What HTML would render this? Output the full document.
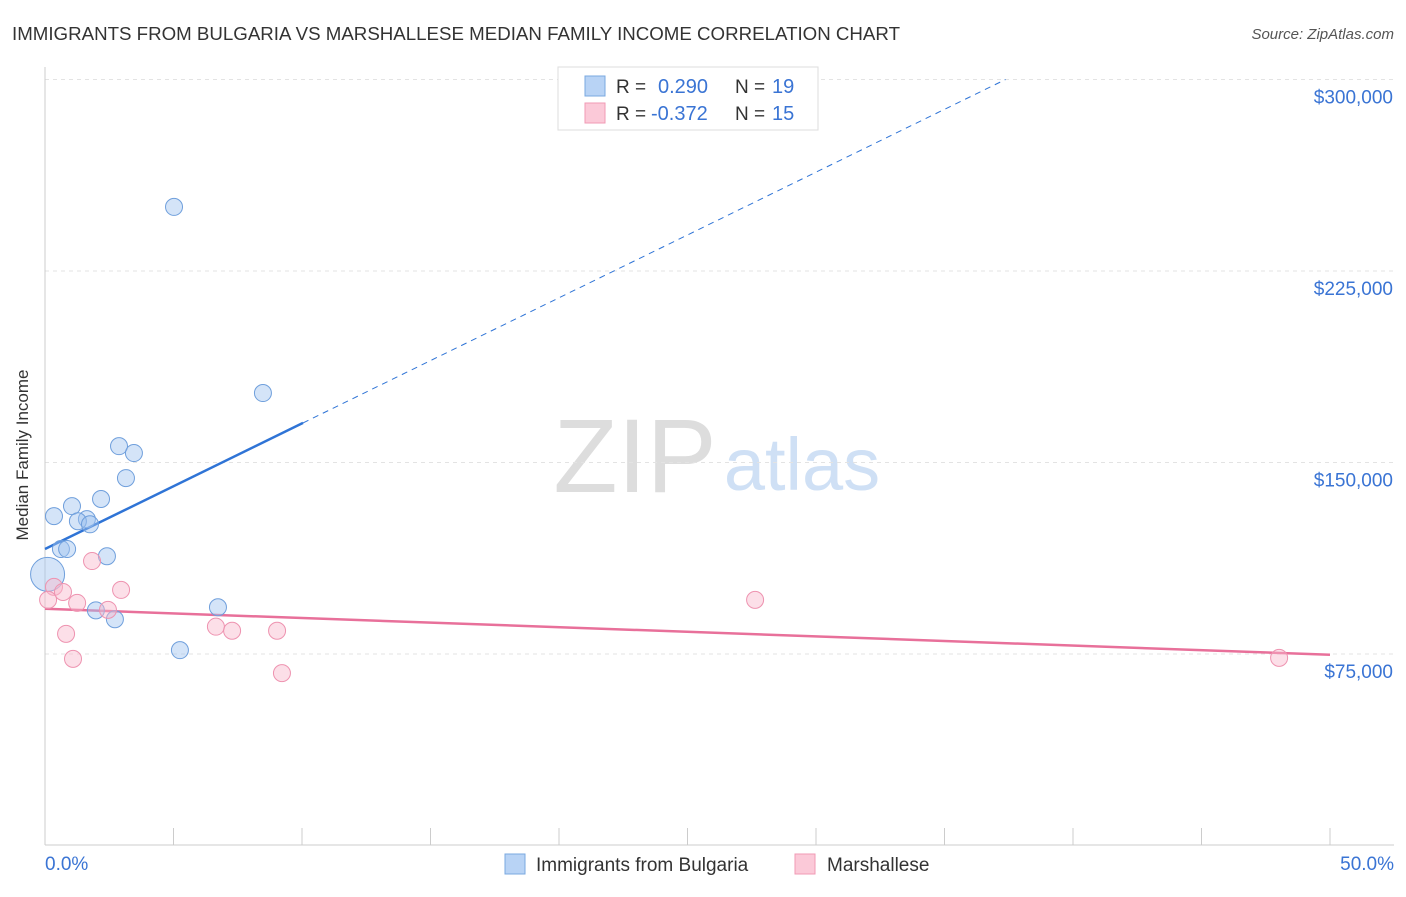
<!DOCTYPE html>
<html><head><meta charset="utf-8"><style>
body{margin:0;background:#fff;font-family:"Liberation Sans",sans-serif;}
svg text{font-family:"Liberation Sans",sans-serif;}
</style></head><body>
<svg id="chart" width="1406" height="892" xmlns="http://www.w3.org/2000/svg">
<text x="12" y="40" font-size="18" fill="#333" textLength="888" lengthAdjust="spacingAndGlyphs">IMMIGRANTS FROM BULGARIA VS MARSHALLESE MEDIAN FAMILY INCOME CORRELATION CHART</text>
<text x="1394" y="39" font-size="15" fill="#555" font-style="italic" text-anchor="end">Source: ZipAtlas.com</text>
<text x="28" y="455" font-size="17" fill="#333" text-anchor="middle" transform="rotate(-90 28 455)">Median Family Income</text>
<g><text x="635" y="492" font-size="105" fill="#ddd" font-family="Liberation Serif" text-anchor="middle">ZIP</text><text x="802" y="490" font-size="74" fill="#cfe0f5" text-anchor="middle">atlas</text></g>
<g id="grid"></g><g id="axes"></g><g id="marks"></g>
<g>
<rect x="558" y="67" width="260" height="63" fill="#fff" stroke="#ddd"/>
<rect x="585" y="76" width="20" height="20" fill="#b8d3f5" stroke="#7aa8e0"/>
<text x="616" y="93" font-size="19" fill="#333">R = </text><text x="658" y="93" font-size="20" fill="#3a74d4">0.290</text>
<text x="735" y="93" font-size="19" fill="#333">N = </text><text x="772" y="93" font-size="20" fill="#3a74d4">19</text>
<rect x="585" y="103" width="20" height="20" fill="#fbc9d8" stroke="#f09ab4"/>
<text x="616" y="120" font-size="19" fill="#333">R = </text><text x="651" y="120" font-size="20" fill="#3a74d4">-0.372</text>
<text x="735" y="120" font-size="19" fill="#333">N = </text><text x="772" y="120" font-size="20" fill="#3a74d4">15</text>
</g>
<g>
<rect x="505" y="854" width="20" height="20" fill="#b8d3f5" stroke="#7aa8e0"/>
<text x="536" y="871" font-size="19" fill="#333">Immigrants from Bulgaria</text>
<rect x="795" y="854" width="20" height="20" fill="#fbc9d8" stroke="#f09ab4"/>
<text x="827" y="871" font-size="19" fill="#333">Marshallese</text>
</g>
</svg>
<script>
const blueX=[5.02,8.48,2.88,3.46,3.15,1.05,2.18,0.35,1.63,1.28,1.75,0.62,0.86,2.41,0.1,1.98,2.72,6.73,5.25];
const blueY=[250100,177200,156400,153700,143900,132900,135700,129000,127800,127000,125800,116100,116100,113300,106200,92100,88600,93300,76500];
const pinkX=[0.35,0.12,0.7,1.25,1.83,2.96,2.45,0.82,1.09,6.65,7.28,9.03,9.22,27.63,48.02];
const pinkY=[101300,96200,99300,95000,111400,100100,92300,82900,73100,85700,84100,84100,67500,96200,73500];
const yTicks=[75000,150000,225000,300000];
const yTickLabels=["$75,000","$150,000","$225,000","$300,000"];
const xTickLabels=["0.0%","50.0%"];
const blueTrend=[116100,165500];
const pinkTrend=[92700,74700];
const NS="http://www.w3.org/2000/svg";
const X=p=>45+p/50*1285, Y=v=>845.5-v*191.5/75000;
function mk(t,a,parent){const e=document.createElementNS(NS,t);for(const k in a)e.setAttribute(k,a[k]);document.getElementById(parent).appendChild(e);return e;}
yTicks.forEach((v,i)=>{
 const l=mk('line',{x1:45,x2:1394,y1:Y(v),y2:Y(v),stroke:'#e3e3e3','stroke-dasharray':'4,4'},'grid');
 
 
 const t=mk('text',{x:1393,y:Y(v)+24,'font-size':19,fill:'#3a74d4','text-anchor':'end'},'axes');
 t.textContent=yTickLabels[i];
 
 
});
let a=mk('line',{x1:45,x2:45,y1:67,y2:845,stroke:'#ccc'},'axes');


a=mk('line',{x1:45,x2:1394,y1:845,y2:845,stroke:'#ccc'},'axes');


for(let i=0;i<=10;i++){const tk=mk('line',{x1:X(i*5),x2:X(i*5),y1:828,y2:845,stroke:'#ccc'},'axes');
 
 }
[[0,'start',45],[50,'end',1394]].forEach((d,i)=>{const t=mk('text',{x:d[2],y:870,'font-size':19,fill:'#3a74d4','text-anchor':d[1]},'axes');t.textContent=xTickLabels[i];
 
 });
const bs=(blueTrend[1]-blueTrend[0])/10.04;
let tl=mk('line',{x1:X(0),y1:Y(blueTrend[0]),x2:X(10.04),y2:Y(blueTrend[1]),stroke:'#2f74d6','stroke-width':2.5},'marks');


const xe=(yTicks[3]-blueTrend[0])/bs;
tl=mk('line',{x1:X(10.04),y1:Y(blueTrend[1]),x2:X(xe),y2:Y(blueTrend[0]+bs*xe),stroke:'#2f74d6','stroke-width':1,'stroke-dasharray':'6,5'},'marks');


tl=mk('line',{x1:X(0),y1:Y(pinkTrend[0]),x2:X(50),y2:Y(pinkTrend[1]),stroke:'#e8709a','stroke-width':2.5},'marks');


blueX.forEach((x,i)=>{const c=mk('circle',{cx:X(x),cy:Y(blueY[i]),r:i==14?17:8.5,fill:'rgba(160,196,240,0.45)',stroke:'#6f9fdc','stroke-width':1},'marks');
 
 });
pinkX.forEach((x,i)=>{const c=mk('circle',{cx:X(x),cy:Y(pinkY[i]),r:8.5,fill:'rgba(248,184,204,0.45)',stroke:'#ee93b0','stroke-width':1},'marks');
 
 });
</script>
</body></html>
